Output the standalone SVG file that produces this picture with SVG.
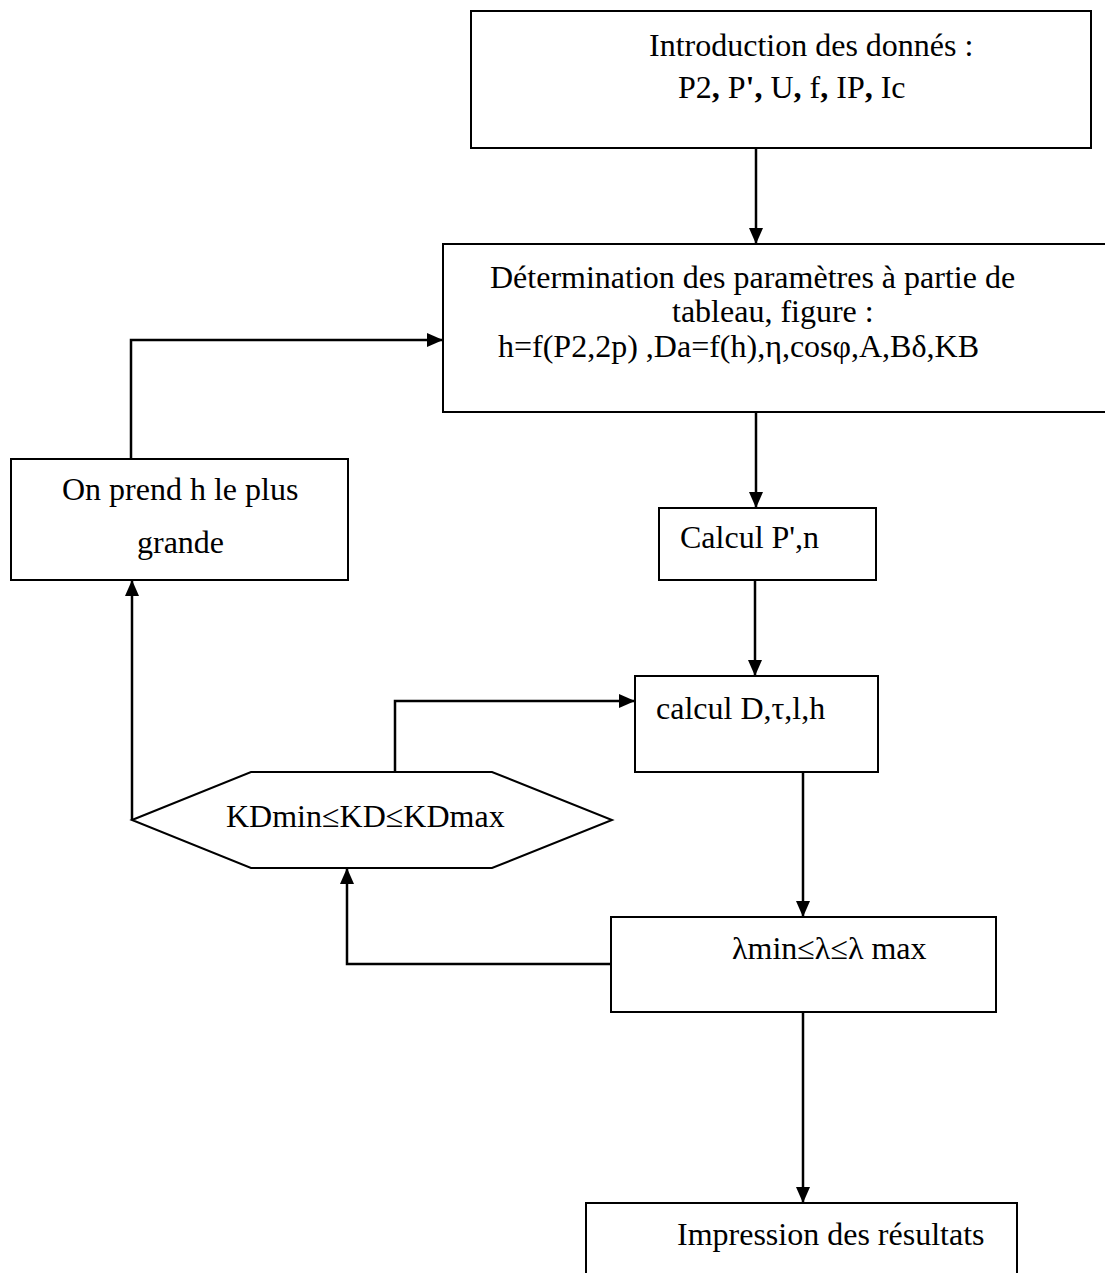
<svg xmlns="http://www.w3.org/2000/svg" width="1105" height="1273" viewBox="0 0 1105 1273">
<style>
.box{fill:#fff;stroke:#000;stroke-width:2}
.t{font-family:"Liberation Serif","Times New Roman",serif;font-size:32px;fill:#000}
.b{font-weight:bold}
.c{fill:none;stroke:#000;stroke-width:2.5}
</style>
<defs>
<marker id="ah" markerUnits="userSpaceOnUse" markerWidth="18" markerHeight="16" refX="16" refY="8" orient="auto">
<path d="M0,1 L16,8 L0,15 Z" fill="#000"/>
</marker>
</defs>
<rect width="1105" height="1273" fill="#fff"/>
<g id="connectors">
<path class="c" d="M756,148 V244" marker-end="url(#ah)"/>
<path class="c" d="M756,412 V508" marker-end="url(#ah)"/>
<path class="c" d="M755,580 V676" marker-end="url(#ah)"/>
<path class="c" d="M803,772 V917" marker-end="url(#ah)"/>
<path class="c" d="M803,1012 V1203" marker-end="url(#ah)"/>
<path class="c" d="M611,964 H347 V868" marker-end="url(#ah)"/>
<path class="c" d="M395,772 V701 H635" marker-end="url(#ah)"/>
<path class="c" d="M132,820 V580" marker-end="url(#ah)"/>
<path class="c" d="M131,459 V340 H443" marker-end="url(#ah)"/>
</g>
<g id="intro">
<rect class="box" x="471" y="11" width="620" height="137"/>
<text class="t" x="649" y="56">Introduction des donnés :</text>
<text class="t" x="678" y="98">P2<tspan class="b">,</tspan> P<tspan class="b">'</tspan><tspan class="b">,</tspan> U<tspan class="b">,</tspan> f<tspan class="b">,</tspan> IP<tspan class="b">,</tspan> Ic</text>
</g>
<g id="determination">
<rect class="box" x="443" y="244" width="670" height="168"/>
<text class="t" x="490" y="288">Détermination des paramètres à partie de</text>
<text class="t" x="672" y="322">tableau, figure :</text>
<text class="t" x="498" y="357">h=f(P2,2p) ,Da=f(h),η,cosφ,A,Bδ,KB</text>
</g>
<g id="calcul-p">
<rect class="box" x="659" y="508" width="217" height="72"/>
<text class="t" x="680" y="548">Calcul P',n</text>
</g>
<g id="calcul-d">
<rect class="box" x="635" y="676" width="243" height="96"/>
<text class="t" x="656" y="719">calcul D,τ,l,h</text>
</g>
<g id="lambda">
<rect class="box" x="611" y="917" width="385" height="95"/>
<text class="t" x="732" y="959">λmin≤λ≤λ max</text>
</g>
<g id="impression">
<rect class="box" x="586" y="1203" width="431" height="80"/>
<text class="t" x="677" y="1245">Impression des résultats</text>
</g>
<g id="on-prend">
<rect class="box" x="11" y="459" width="337" height="121"/>
<text class="t" x="62" y="500">On prend h le plus</text>
<text class="t" x="137" y="553">grande</text>
</g>
<g id="kd">
<polygon class="box" points="132,820 251,772 492,772 612,820 492,868 251,868"/>
<text class="t" x="226" y="827">KDmin≤KD≤KDmax</text>
</g>
</svg>
